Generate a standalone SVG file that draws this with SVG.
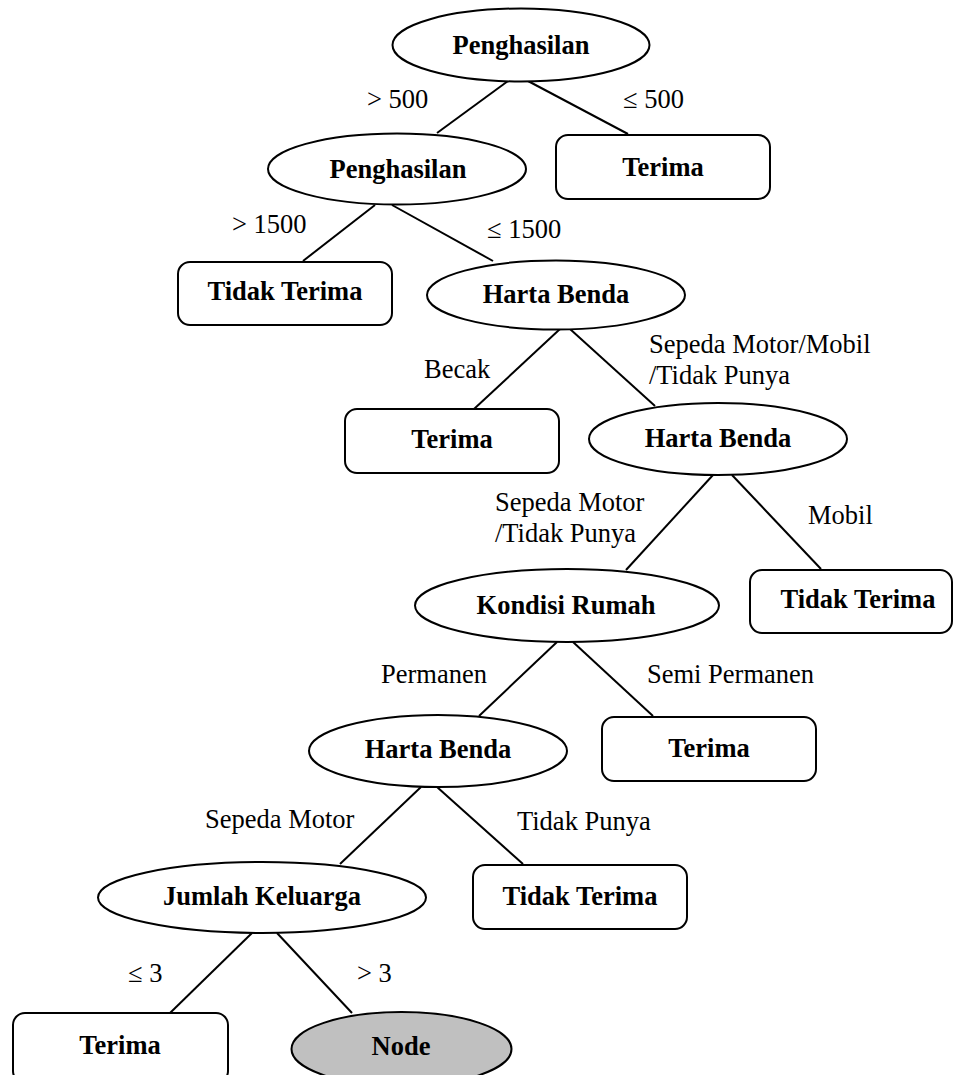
<svg xmlns="http://www.w3.org/2000/svg" width="955" height="1075" viewBox="0 0 955 1075">
  <style>
    .ell { fill: #ffffff; stroke: #000000; stroke-width: 2; }
    .leaf { fill: #ffffff; stroke: #000000; stroke-width: 2; }
    .grey { fill: #c0c0c0; }
    .edge { stroke: #000000; stroke-width: 2; fill: none; }
    .nt { font-family: "Liberation Serif", "Times New Roman", serif; font-size: 26.5px; font-weight: bold; text-anchor: middle; fill: #000000; }
    .lbl { font-family: "Liberation Serif", "Times New Roman", serif; font-size: 26.5px; fill: #000000; }
  </style>
  <rect x="0" y="0" width="955" height="1075" fill="#ffffff"/>

  <!-- branches -->
  <g id="connectors">
    <line class="edge" x1="508" y1="81" x2="437" y2="133"/>
    <line class="edge" x1="528" y1="81" x2="628" y2="134"/>
    <line class="edge" x1="375" y1="205" x2="303" y2="261"/>
    <line class="edge" x1="392" y1="205" x2="493" y2="261"/>
    <line class="edge" x1="560" y1="329" x2="474" y2="409"/>
    <line class="edge" x1="570" y1="329" x2="655" y2="406"/>
    <line class="edge" x1="713" y1="475" x2="626" y2="570"/>
    <line class="edge" x1="732" y1="475" x2="821" y2="569"/>
    <line class="edge" x1="557" y1="642" x2="479" y2="716"/>
    <line class="edge" x1="573" y1="642" x2="653" y2="716"/>
    <line class="edge" x1="421" y1="787" x2="340" y2="864"/>
    <line class="edge" x1="437" y1="787" x2="523" y2="864"/>
    <line class="edge" x1="252" y1="933" x2="170" y2="1013"/>
    <line class="edge" x1="277" y1="933" x2="352" y2="1013"/>
  </g>

  <!-- branch labels -->
  <g id="labels">
    <text class="lbl" x="367" y="108">&gt; 500</text>
    <text class="lbl" x="623" y="108">≤ 500</text>
    <text class="lbl" x="232" y="233">&gt; 1500</text>
    <text class="lbl" x="487" y="238">≤ 1500</text>
    <text class="lbl" x="424" y="378">Becak</text>
    <text class="lbl" x="649" y="353">Sepeda Motor/Mobil</text>
    <text class="lbl" x="649" y="384">/Tidak Punya</text>
    <text class="lbl" x="495" y="511">Sepeda Motor</text>
    <text class="lbl" x="495" y="542">/Tidak Punya</text>
    <text class="lbl" x="808" y="524">Mobil</text>
    <text class="lbl" x="381" y="683">Permanen</text>
    <text class="lbl" x="647" y="683">Semi Permanen</text>
    <text class="lbl" x="205" y="828">Sepeda Motor</text>
    <text class="lbl" x="517" y="830">Tidak Punya</text>
    <text class="lbl" x="128" y="982">≤ 3</text>
    <text class="lbl" x="357" y="982">&gt; 3</text>
  </g>

  <g id="n-root">
    <ellipse class="ell" cx="521" cy="45" rx="128.5" ry="36.5"/>
    <text class="nt" x="521" y="54">Penghasilan</text>
  </g>
  <g id="n-penghasilan2">
    <ellipse class="ell" cx="397" cy="169" rx="129" ry="35.5"/>
    <text class="nt" x="398" y="178">Penghasilan</text>
  </g>
  <g id="n-terima1">
    <rect class="leaf" x="556" y="135" width="214" height="64" rx="12"/>
    <text class="nt" x="663" y="176">Terima</text>
  </g>
  <g id="n-tidak1">
    <rect class="leaf" x="178" y="262" width="214" height="63" rx="12"/>
    <text class="nt" x="285" y="300">Tidak Terima</text>
  </g>
  <g id="n-harta1">
    <ellipse class="ell" cx="556" cy="295" rx="129" ry="34.5"/>
    <text class="nt" x="556" y="303">Harta Benda</text>
  </g>
  <g id="n-terima2">
    <rect class="leaf" x="345" y="409" width="214" height="64" rx="12"/>
    <text class="nt" x="452" y="448">Terima</text>
  </g>
  <g id="n-harta2">
    <ellipse class="ell" cx="718" cy="439" rx="129" ry="36"/>
    <text class="nt" x="718" y="447">Harta Benda</text>
  </g>
  <g id="n-kondisi">
    <ellipse class="ell" cx="567" cy="605.5" rx="152" ry="36.5"/>
    <text class="nt" x="566" y="614">Kondisi Rumah</text>
  </g>
  <g id="n-tidak2">
    <rect class="leaf" x="750" y="570" width="202" height="63" rx="12"/>
    <text class="nt" x="858" y="608">Tidak Terima</text>
  </g>
  <g id="n-harta3">
    <ellipse class="ell" cx="438" cy="751" rx="129" ry="36"/>
    <text class="nt" x="438" y="758">Harta Benda</text>
  </g>
  <g id="n-terima3">
    <rect class="leaf" x="602" y="717" width="214" height="64" rx="12"/>
    <text class="nt" x="709" y="757">Terima</text>
  </g>
  <g id="n-jumlah">
    <ellipse class="ell" cx="262" cy="897.5" rx="164" ry="35.5"/>
    <text class="nt" x="262" y="905">Jumlah Keluarga</text>
  </g>
  <g id="n-tidak3">
    <rect class="leaf" x="473" y="865" width="214" height="64" rx="12"/>
    <text class="nt" x="580" y="905">Tidak Terima</text>
  </g>
  <g id="n-terima4">
    <rect class="leaf" x="13" y="1013" width="215" height="70" rx="12"/>
    <text class="nt" x="120" y="1054">Terima</text>
  </g>
  <g id="n-node">
    <ellipse class="ell grey" cx="401.5" cy="1049" rx="110" ry="37"/>
    <text class="nt" x="401" y="1055">Node</text>
  </g>
</svg>
